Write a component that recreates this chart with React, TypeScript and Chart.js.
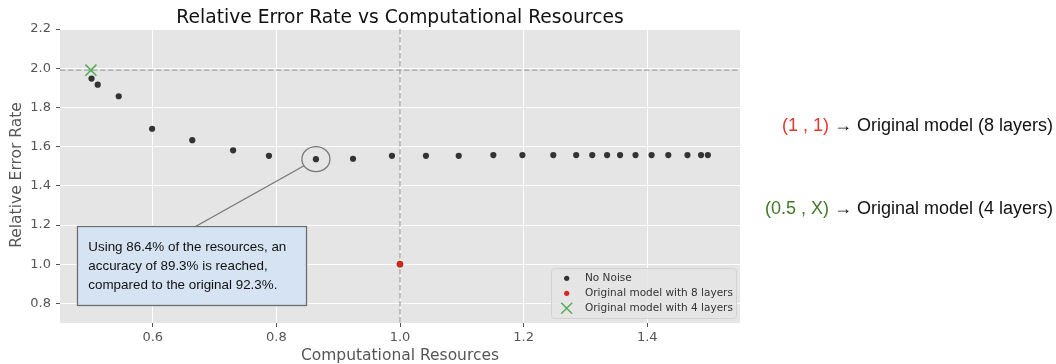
import { useEffect, useRef } from "react";
import { Chart, registerables } from "chart.js";

Chart.register(...registerables);

// ---------- data ----------
const NN_X = [0.501, 0.511, 0.545, 0.599, 0.664, 0.73, 0.788, 0.864, 0.924, 0.987, 1.042, 1.095, 1.151, 1.198, 1.248, 1.285, 1.311, 1.335, 1.356, 1.381, 1.407, 1.434, 1.465, 1.487, 1.498];
const NN_Y = [1.947, 1.916, 1.857, 1.691, 1.633, 1.581, 1.553, 1.536, 1.538, 1.553, 1.553, 1.553, 1.557, 1.557, 1.557, 1.557, 1.557, 1.557, 1.557, 1.557, 1.557, 1.557, 1.557, 1.557, 1.557];
const ORIG8_X = [1.0];
const ORIG8_Y = [1.0];
const ORIG4_X = [0.5];
const ORIG4_Y = [1.99];

const X_TICKS = [0.6, 0.8, 1.0, 1.2, 1.4];
const Y_TICKS = [0.8, 1.0, 1.2, 1.4, 1.6, 1.8, 2.0, 2.2];
const X_MIN = 0.45;
const X_MAX = 1.55;
const Y_MIN = 0.7;
const Y_MAX = 2.2;

const REF_X = 1.0;
const REF_Y = 1.99;
const HIGHLIGHT_X = 0.864;
const HIGHLIGHT_Y = 1.536;

const TITLE = "Relative Error Rate vs Computational Resources";
const X_LABEL = "Computational Resources";
const Y_LABEL = "Relative Error Rate";
const LEGEND_LABELS = ["No Noise", "Original model with 8 layers", "Original model with 4 layers"];
const NOTE_LINES = [
  "Using 86.4% of the resources, an",
  "accuracy of 89.3% is reached,",
  "compared to the original 92.3%.",
];
const SIDE_NOTES = [
  { key: "(1 , 1)", rest: " \u2192 Original model (8 layers)", color: "#e2392c" },
  { key: "(0.5 , X)", rest: " \u2192 Original model (4 layers)", color: "#3f7a26" },
];

const DARK = "#333333";
const RED = "#d8281c";
const GREEN = "#55aa55";

const decor = {
  id: "decor",
  beforeDraw(chart: any) {
    const { ctx, chartArea: a } = chart;
    ctx.save();
    ctx.fillStyle = "#ffffff";
    ctx.fillRect(0, 0, chart.width, chart.height);
    ctx.fillStyle = "#e5e5e5";
    ctx.fillRect(a.left, a.top, a.right - a.left, a.bottom - a.top);
    ctx.restore();
  },
  beforeDatasetsDraw(chart: any) {
    const { ctx, chartArea: a, scales } = chart;
    const px = scales.x.getPixelForValue(REF_X);
    const py = scales.y.getPixelForValue(REF_Y);
    ctx.save();
    ctx.strokeStyle = "#a3a3a3";
    ctx.lineWidth = 1.3;
    ctx.setLineDash([5.5, 2.5]);
    ctx.beginPath();
    ctx.moveTo(px, a.top);
    ctx.lineTo(px, a.bottom);
    ctx.moveTo(a.left, py);
    ctx.lineTo(a.right, py);
    ctx.stroke();
    ctx.restore();
  },
  afterDraw(chart: any) {
    const { ctx, chartArea: a, scales } = chart;
    const cx0 = (a.left + a.right) / 2;
    ctx.save();

    // title
    ctx.fillStyle = "#111111";
    ctx.font = '18.7px "DejaVu Sans"';
    ctx.textAlign = "center";
    ctx.textBaseline = "alphabetic";
    ctx.fillText(TITLE, cx0, 22.7);

    // axis labels
    ctx.fillStyle = "#555555";
    ctx.font = '15.5px "DejaVu Sans"';
    ctx.fillText(X_LABEL, cx0, 359.5);
    ctx.save();
    ctx.translate(16.5, (a.top + a.bottom) / 2 - 1);
    ctx.rotate(-Math.PI / 2);
    ctx.textBaseline = "middle";
    ctx.fillText(Y_LABEL, 0, 0);
    ctx.restore();

    // highlight ellipse + connector
    const hx = scales.x.getPixelForValue(HIGHLIGHT_X);
    const hy = scales.y.getPixelForValue(HIGHLIGHT_Y);
    const rx = 14, ry = 12.5;
    const boxX = 77.5, boxY = 226.5, boxW = 229, boxH = 79;
    const tx = 195.5, ty = boxY;
    const th = Math.atan2((ty - hy) / ry, (tx - hx) / rx);
    ctx.strokeStyle = "#777777";
    ctx.lineWidth = 1.3;
    ctx.beginPath();
    ctx.ellipse(hx, hy, rx, ry, 0, 0, Math.PI * 2);
    ctx.stroke();
    ctx.beginPath();
    ctx.moveTo(hx + rx * Math.cos(th), hy + ry * Math.sin(th));
    ctx.lineTo(tx, ty);
    ctx.stroke();

    // note box
    ctx.fillStyle = "#d6e3f2";
    ctx.fillRect(boxX, boxY, boxW, boxH);
    ctx.strokeStyle = "#6e6e6e";
    ctx.lineWidth = 1.3;
    ctx.strokeRect(boxX, boxY, boxW, boxH);
    ctx.fillStyle = "#111111";
    ctx.font = '13.4px "Liberation Sans"';
    ctx.textAlign = "left";
    ctx.textBaseline = "alphabetic";
    NOTE_LINES.forEach((t, i) => ctx.fillText(t, 88.3, 250.7 + i * 19.3));

    // legend
    const lx = 551, ly = 268, lw = 185, lh = 50;
    ctx.fillStyle = "rgba(229,229,229,0.85)";
    ctx.strokeStyle = "#d2d2d2";
    ctx.lineWidth = 1;
    ctx.beginPath();
    (ctx as any).roundRect(lx + 0.5, ly + 0.5, lw, lh, 3);
    ctx.fill();
    ctx.stroke();
    const rows = [278.3, 293.3, 308.3];
    const mx = 566.7;
    ctx.fillStyle = DARK;
    ctx.beginPath();
    ctx.arc(mx, rows[0], 2.6, 0, Math.PI * 2);
    ctx.fill();
    ctx.fillStyle = RED;
    ctx.beginPath();
    ctx.arc(mx, rows[1], 2.6, 0, Math.PI * 2);
    ctx.fill();
    ctx.strokeStyle = GREEN;
    ctx.lineWidth = 1.4;
    const s = 5.5;
    ctx.beginPath();
    ctx.moveTo(mx - s, rows[2] - s);
    ctx.lineTo(mx + s, rows[2] + s);
    ctx.moveTo(mx - s, rows[2] + s);
    ctx.lineTo(mx + s, rows[2] - s);
    ctx.stroke();
    ctx.fillStyle = "#333333";
    ctx.font = '10.5px "DejaVu Sans"';
    ctx.textBaseline = "middle";
    LEGEND_LABELS.forEach((t, i) => ctx.fillText(t, 585, rows[i]));

    // side notes
    ctx.font = '18px "Liberation Sans"';
    ctx.textBaseline = "alphabetic";
    ctx.textAlign = "right";
    const right = 1053;
    const bases = [130.7, 214];
    SIDE_NOTES.forEach((n, i) => {
      ctx.fillStyle = "#111111";
      ctx.fillText(n.rest, right, bases[i]);
      const w = ctx.measureText(n.rest).width;
      ctx.fillStyle = n.color;
      ctx.fillText(n.key, right - w, bases[i]);
    });

    ctx.restore();
  },
};

export default function App() {
  const ref = useRef<HTMLCanvasElement | null>(null);
  useEffect(() => {
    if (!ref.current) return;
    const chart = new Chart(ref.current, {
      type: "scatter",
      data: {
        datasets: [
          {
            label: LEGEND_LABELS[0],
            data: NN_X.map((x, i) => ({ x, y: NN_Y[i] })),
            backgroundColor: DARK,
            borderColor: DARK,
            borderWidth: 0,
            pointRadius: 3.1,
            pointHoverRadius: 3.1,
            order: 3,
          },
          {
            label: LEGEND_LABELS[1],
            data: ORIG8_X.map((x, i) => ({ x, y: ORIG8_Y[i] })),
            backgroundColor: RED,
            borderColor: "#8e1d14",
            borderWidth: 0.6,
            pointRadius: 3.1,
            pointHoverRadius: 3.1,
            order: 2,
          },
          {
            label: LEGEND_LABELS[2],
            data: ORIG4_X.map((x, i) => ({ x, y: ORIG4_Y[i] })),
            backgroundColor: GREEN,
            borderColor: GREEN,
            borderWidth: 1.5,
            pointStyle: "crossRot",
            pointRadius: 7.8,
            pointHoverRadius: 7.8,
            order: 1,
          },
        ],
      },
      options: {
        responsive: false,
        devicePixelRatio: 1,
        animation: false,
        events: [],
        layout: { padding: { left: 0, top: 29, right: 316, bottom: 0 } },
        plugins: {
          legend: { display: false },
          title: { display: false },
          tooltip: { enabled: false },
        },
        scales: {
          x: {
            type: "linear",
            min: X_MIN,
            max: X_MAX,
            afterBuildTicks: (s: any) => {
              s.ticks = X_TICKS.map((v) => ({ value: v }));
            },
            afterFit: (s: any) => {
              s.height = 41;
            },
            border: { display: false },
            grid: { color: "#ffffff", lineWidth: 1, drawTicks: true, tickLength: 4, tickColor: "#555555", tickWidth: 1 },
            ticks: {
              color: "#555555",
              font: { family: "DejaVu Sans", size: 13 },
              padding: 3,
              maxRotation: 0,
              autoSkip: false,
              callback: (v: any) => Number(v).toFixed(1),
            },
          },
          y: {
            type: "linear",
            min: Y_MIN,
            max: Y_MAX,
            afterBuildTicks: (s: any) => {
              s.ticks = Y_TICKS.map((v) => ({ value: v }));
            },
            afterFit: (s: any) => {
              s.width = 60;
            },
            border: { display: false },
            grid: { color: "#ffffff", lineWidth: 1, drawTicks: true, tickLength: 4, tickColor: "#555555", tickWidth: 1 },
            ticks: {
              color: "#555555",
              font: { family: "DejaVu Sans", size: 13 },
              padding: 5,
              autoSkip: false,
              callback: (v: any) => Number(v).toFixed(1),
            },
          },
        },
      },
      plugins: [decor],
    });
    return () => chart.destroy();
  }, []);

  return (
    <div style={{ position: "fixed", left: 0, top: 0, width: 1056, height: 364, background: "#fff" }}>
      <canvas ref={ref} width={1056} height={364} style={{ display: "block", width: 1056, height: 364 }} />
    </div>
  );
}
